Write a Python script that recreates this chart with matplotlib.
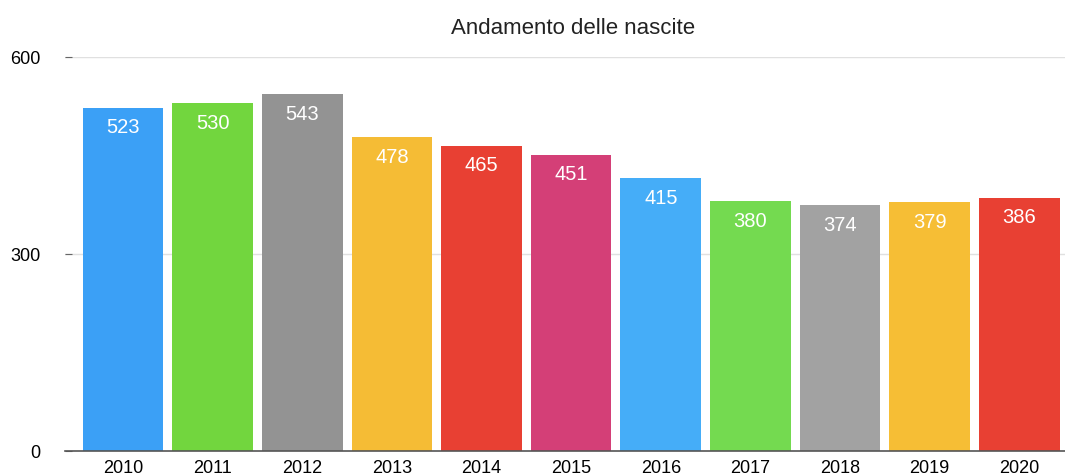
import matplotlib
matplotlib.use("Agg")
import matplotlib.pyplot as plt

years = ["2010", "2011", "2012", "2013", "2014", "2015", "2016", "2017", "2018", "2019", "2020"]
births = [523, 530, 543, 478, 465, 451, 415, 380, 374, 379, 386]
colors = ["#3BA0F6", "#72D63E", "#939393", "#F5BC35", "#E84033", "#D43F77",
          "#45ADF8", "#74DA50", "#A2A2A2", "#F6BE35", "#E84033"]
yticks = [0, 300, 600]

plt.rcParams['font.family'] = ['Liberation Sans', 'DejaVu Sans']

W, H = 1065, 477
fig = plt.figure(figsize=(W / 100, H / 100), dpi=100)
left, right, bottom, top = 65, 1065, 452, 58
ax = fig.add_axes([left / W, (H - bottom) / H, (right - left) / W, (bottom - top) / H])

x = list(range(len(years)))
bars = ax.bar(x, births, width=0.9, color=colors, zorder=3)
for xi, v in zip(x, births):
    ax.text(xi, v - 29, str(v), ha="center", va="center", color="white",
            fontsize=14.5, zorder=4)

ax.set_xlim(-0.647, 10.51)
ax.set_ylim(0, 600)
ax.set_yticks(yticks)
ax.set_yticklabels([str(t) for t in yticks])
ax.set_xticks(x)
ax.set_xticklabels(years)
ax.tick_params(axis="y", direction="in", length=5, color="#666666", labelsize=13, pad=17.5)
ax.tick_params(axis="x", length=0, labelsize=13, pad=5.5)
for lbl in ax.get_yticklabels():
    lbl.set_horizontalalignment("right")
ax.grid(axis="y", color="#E0E0E0", linewidth=1, zorder=0)
for s in ["left", "right", "top"]:
    ax.spines[s].set_visible(False)
ax.spines["bottom"].set_color("#555555")
ax.spines["bottom"].set_linewidth(1.2)
ax.spines["bottom"].set_zorder(5)

fig.text(573 / W, 1 - 28 / H, "Andamento delle nascite", ha="center",
         va="center", fontsize=16, color="#222222")

fig.savefig("out.png", dpi=100)
